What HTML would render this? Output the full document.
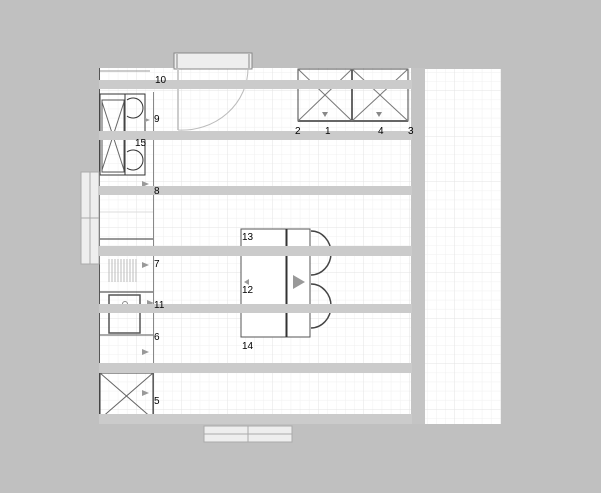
<!DOCTYPE html>
<html><head><meta charset="utf-8"><style>
html,body{margin:0;padding:0;background:#c0c0c0;}
svg{display:block;font-family:"Liberation Sans",sans-serif;}
</style></head><body>
<svg width="601" height="493" viewBox="0 0 601 493" xmlns="http://www.w3.org/2000/svg">
<defs>
<pattern id="g" x="0" y="0" width="9.1" height="9.1" patternUnits="userSpaceOnUse">
<path d="M9.1 0V9.1H0" fill="none" stroke="#efefef" stroke-width="1"/>
</pattern>
<pattern id="G" x="0" y="0" width="45.5" height="45.5" patternUnits="userSpaceOnUse">
<path d="M45.5 0V45.5H0" fill="none" stroke="#e3e3e3" stroke-width="1"/>
</pattern>
</defs>
<rect width="601" height="493" fill="#c0c0c0"/>
<rect x="99" y="68" width="313" height="355" fill="#fff"/>
<rect x="99" y="68" width="313" height="355" fill="url(#g)"/>
<rect x="99" y="68" width="313" height="355" fill="url(#G)"/>
<rect x="425" y="69" width="76" height="355" fill="#fff"/>
<rect x="425" y="69" width="76" height="355" fill="url(#g)"/>
<rect x="425" y="69" width="76" height="355" fill="url(#G)"/>
<rect x="411" y="68" width="14" height="356" fill="#c4c4c4"/>
<line x1="99.5" y1="68" x2="99.5" y2="423" stroke="#555" stroke-width="1"/>
<line x1="153.5" y1="92" x2="153.5" y2="423" stroke="#888" stroke-width="1"/>
<rect x="174" y="53" width="78" height="16" fill="#eee" stroke="#888"/>
<line x1="177" y1="54" x2="177" y2="68" stroke="#888"/><line x1="249" y1="54" x2="249" y2="68" stroke="#888"/>
<line x1="178" y1="69" x2="178" y2="130" stroke="#ccc" stroke-width="2"/>
<path d="M178 130 A66 62 0 0 0 248 68" fill="none" stroke="#bbb"/>
<line x1="100" y1="71" x2="150" y2="71" stroke="#999"/>
<rect x="100" y="94" width="45" height="81" fill="none" stroke="#333"/>
<line x1="125" y1="94" x2="125" y2="175" stroke="#333"/>
<line x1="102" y1="102" x2="124" y2="170" stroke="#666"/><line x1="124" y1="102" x2="102" y2="170" stroke="#666"/>
<rect x="102" y="100" width="22" height="72" fill="none" stroke="#555"/>
<path d="M127 100 A10 10 0 1 1 127 116" fill="none" stroke="#333"/>
<path d="M127 152 A10 10 0 1 1 127 168" fill="none" stroke="#333"/>
<rect x="81" y="172" width="18" height="92" fill="#eee" stroke="#aaa"/>
<line x1="90" y1="172" x2="90" y2="264" stroke="#aaa"/>
<line x1="81" y1="218" x2="99" y2="218" stroke="#aaa"/>
<line x1="100" y1="239" x2="153" y2="239" stroke="#333"/>
<line x1="100" y1="212" x2="153" y2="212" stroke="#ddd"/>
<g stroke="#bbb"><line x1="109" y1="259" x2="109" y2="282"/><line x1="112" y1="259" x2="112" y2="282"/><line x1="115" y1="259" x2="115" y2="282"/><line x1="118" y1="259" x2="118" y2="282"/><line x1="121" y1="259" x2="121" y2="282"/><line x1="124" y1="259" x2="124" y2="282"/><line x1="127" y1="259" x2="127" y2="282"/><line x1="130" y1="259" x2="130" y2="282"/><line x1="133" y1="259" x2="133" y2="282"/><line x1="136" y1="259" x2="136" y2="282"/></g>
<line x1="100" y1="292" x2="153" y2="292" stroke="#333"/>
<rect x="109" y="295" width="31" height="38" fill="none" stroke="#555" stroke-width="1.5"/>
<circle cx="125" cy="304" r="2.5" fill="none" stroke="#888"/>
<line x1="100" y1="335" x2="153" y2="335" stroke="#555"/>
<line x1="100" y1="368" x2="153" y2="368" stroke="#999"/>
<rect x="100" y="373" width="53" height="46" fill="none" stroke="#333"/>
<line x1="100" y1="373" x2="153" y2="419" stroke="#666"/><line x1="153" y1="373" x2="100" y2="419" stroke="#666"/>
<g fill="#999"><path d="M142 181l7 3-7 3z"/><path d="M142 262l7 3-7 3z"/><path d="M147 300l7 3-7 3z"/><path d="M142 349l7 3-7 3z"/><path d="M142 390l7 3-7 3z"/><path d="M145 118l5 2-5 2z"/></g>
<rect x="298" y="69" width="110" height="52" fill="none" stroke="#444"/>
<line x1="352" y1="69" x2="352" y2="121" stroke="#333" stroke-width="1.5"/>
<line x1="298" y1="121" x2="408" y2="121" stroke="#666" stroke-width="2"/>
<g stroke="#777"><line x1="298" y1="69" x2="352" y2="121"/><line x1="352" y1="69" x2="298" y2="121"/><line x1="352" y1="69" x2="408" y2="121"/><line x1="408" y1="69" x2="352" y2="121"/></g>
<g fill="#888"><path d="M322 112h6l-3 5z"/><path d="M376 112h6l-3 5z"/></g>
<rect x="241" y="229" width="69" height="108" fill="#fff" stroke="#555"/>
<line x1="286.5" y1="229" x2="286.5" y2="337" stroke="#333" stroke-width="2"/>
<path d="M293 275l12 7-12 7z" fill="#999"/>
<path d="M249 279l-5 3 5 3z" fill="#999"/>
<path d="M311 231 A20 22 0 0 1 311 275" fill="none" stroke="#444" stroke-width="1.5"/>
<path d="M311 284 A20 22 0 0 1 311 328" fill="none" stroke="#444" stroke-width="1.5"/>
<rect x="204" y="426" width="88" height="16" fill="#eee" stroke="#aaa"/>
<line x1="248" y1="426" x2="248" y2="442" stroke="#aaa"/>
<line x1="204" y1="434" x2="292" y2="434" stroke="#aaa"/>
<!-- horizontal bars on top -->
<g fill="#cbcbcb">
<rect x="99" y="80" width="313" height="9"/>
<rect x="99" y="131" width="313" height="9"/>
<rect x="99" y="186" width="313" height="9"/>
<rect x="99" y="246" width="313" height="10"/>
<rect x="99" y="304" width="313" height="9"/>
<rect x="99" y="363" width="313" height="10"/>
<rect x="99" y="414" width="313" height="10"/>
</g>
<g font-size="10" fill="#000">
<text x="155" y="83">10</text>
<text x="154" y="122">9</text>
<text x="135" y="146">15</text>
<text x="154" y="194">8</text>
<text x="154" y="267">7</text>
<text x="154" y="308">11</text>
<text x="154" y="340">6</text>
<text x="154" y="404">5</text>
<text x="242" y="240">13</text>
<text x="242" y="293">12</text>
<text x="242" y="349">14</text>
<text x="295" y="134">2</text>
<text x="325" y="134">1</text>
<text x="378" y="134">4</text>
<text x="408" y="134">3</text>
</g>
</svg>
</body></html>
